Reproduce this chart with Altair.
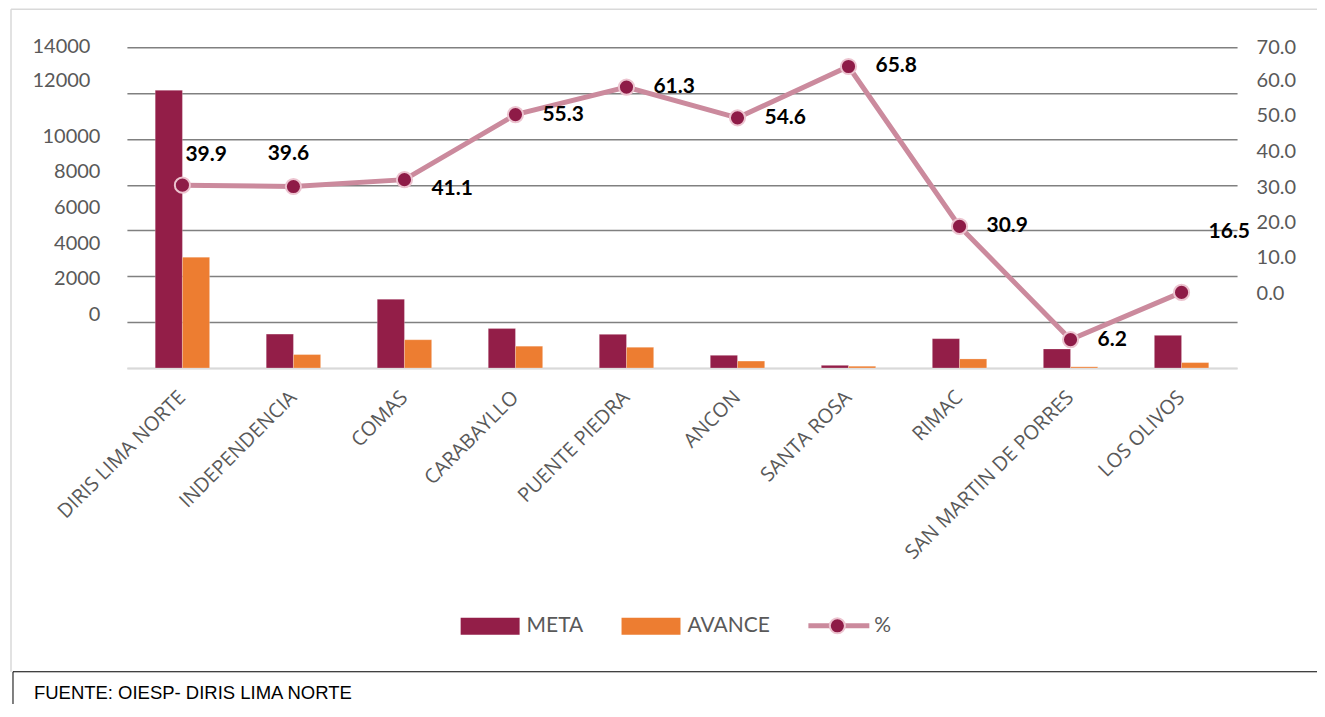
import altair as alt
import pandas as pd

categories = ["DIRIS LIMA NORTE", "INDEPENDENCIA", "COMAS", "CARABAYLLO", "PUENTE PIEDRA",
              "ANCON", "SANTA ROSA", "RIMAC", "SAN MARTIN DE PORRES", "LOS OLIVOS"]
meta = [12120, 1480, 3000, 1720, 1470, 554, 116, 1279, 829, 1425]
avance = [4836, 586, 1233, 951, 901, 302, 76, 395, 51, 235]
pct = [39.9, 39.6, 41.1, 55.3, 61.3, 54.6, 65.8, 30.9, 6.2, 16.5]
series = ["META", "AVANCE"]
left_ticks = [0, 2000, 4000, 6000, 8000, 10000, 12000, 14000]
right_ticks = [0, 10, 20, 30, 40, 50, 60, 70]
source_note = "FUENTE: OIESP- DIRIS LIMA NORTE"

C_META = "#931E48"
C_AVANCE = "#ED7D31"
C_LINE = "#CB8A9D"
C_POINT = "#8E1B47"
GRAY_TXT = "#595959"
FONT = "Lato"

bars_df = pd.DataFrame(
    [{"cat": c, "serie": "META", "val": m} for c, m in zip(categories, meta)]
    + [{"cat": c, "serie": "AVANCE", "val": a} for c, a in zip(categories, avance)]
)
pct_df = pd.DataFrame({"cat": categories, "pct": pct})

W, H = 1111, 321

x_enc = alt.X("cat:N", sort=categories,
              scale=alt.Scale(paddingInner=0.51, paddingOuter=0.255),
              axis=alt.Axis(title=None, labelAngle=-45, labelAlign="right", labelBaseline="middle",
                            labelFont="Open Sans", labelFontSize=20, labelColor=GRAY_TXT,
                            labelPadding=26, ticks=False, domain=True, domainColor="#d9d9d9",
                            domainWidth=2, grid=False, labelLimit=400))

left_off = ("datum.value == 14000 ? -1 : datum.value == 12000 ? -13 : datum.value == 10000 ? -2 : "
            "datum.value == 8000 ? -13 : datum.value == 6000 ? -23 : datum.value == 4000 ? -33 : "
            "datum.value == 2000 ? -44 : -54")
left_pad = "datum.value >= 12000 ? 37 : 27"
right_off = ("datum.value == 70 ? 0 : datum.value == 60 ? -13 : datum.value == 50 ? -23 : "
             "datum.value == 40 ? -33 : datum.value == 30 ? -43 : datum.value == 20 ? -54 : "
             "datum.value == 10 ? -65 : -75")

bars = alt.Chart(bars_df).mark_bar(stroke="white", strokeWidth=0.4, strokeOpacity=0.6).encode(
    x=x_enc,
    xOffset=alt.XOffset("serie:N", sort=series, scale=alt.Scale(domain=series, paddingInner=0)),
    y=alt.Y("val:Q", scale=alt.Scale(domain=[0, 14000], nice=False),
            axis=alt.Axis(title=None, orient="left", values=left_ticks, format="d",
                          grid=True, gridWidth=1.5,
                          gridColor={"condition": {"test": "datum.value === 0", "value": "#d9d9d9"},
                                     "value": "#808080"},
                          domain=False, ticks=False, labelFont=FONT, labelFontSize=20,
                          labelColor=GRAY_TXT, labelBaseline="middle",
                          labelOffset={"expr": left_off}, labelPadding={"expr": left_pad})),
    color=alt.Color("serie:N", scale=alt.Scale(domain=series, range=[C_META, C_AVANCE]), legend=None),
)

y_pct = alt.Y("pct:Q", scale=alt.Scale(domain=[0, 70], nice=False),
              axis=alt.Axis(title=None, orient="right", values=right_ticks, format=".1f",
                            grid=False, domain=False, ticks=False, labelFont=FONT, labelFontSize=20,
                            labelColor=GRAY_TXT, labelBaseline="middle", labelPadding=19,
                            labelOffset={"expr": right_off}))

base_pct = alt.Chart(pct_df).encode(x=alt.X("cat:N", sort=categories), y=y_pct)
line = base_pct.mark_line(color=C_LINE, strokeWidth=5)
pts = base_pct.mark_point(filled=True, fill=C_POINT, stroke="#ecc3cf", strokeWidth=2,
                          size=230, opacity=1)


def lbl(cats, align, dx, dy):
    return base_pct.transform_filter(
        alt.FieldOneOfPredicate(field="cat", oneOf=cats)
    ).mark_text(align=align, baseline="middle", dx=dx, dy=dy, font=FONT, fontSize=21,
                fontWeight="bold", color="black").encode(text=alt.Text("pct:Q", format=".1f"))


labels = [
    lbl(["CARABAYLLO", "PUENTE PIEDRA", "ANCON", "SANTA ROSA", "RIMAC", "SAN MARTIN DE PORRES"],
        "left", 27, 0),
    lbl(["COMAS"], "left", 27, 9),
    lbl(["DIRIS LIMA NORTE"], "left", 3, -30),
    lbl(["INDEPENDENCIA"], "center", -5, -33),
    lbl(["LOS OLIVOS"], "left", 27, -60),
]

pct_layer = alt.layer(line, pts, *labels)

one = alt.Data(values=[{}])


def hline(x0, x1, y, color, w):
    return alt.Chart(one).mark_rule(color=color, strokeWidth=w).encode(
        x=alt.value(x0), x2=alt.value(x1), y=alt.value(y))


def vline(x, y0, y1, color, w):
    return alt.Chart(one).mark_rule(color=color, strokeWidth=w).encode(
        x=alt.value(x), y=alt.value(y0), y2=alt.value(y1))


frame = [
    hline(-116, 1300, -38, "#d9d9d9", 1.5),
    vline(-116, -38, 625, "#d9d9d9", 1.5),
    hline(-114, 1300, 625, "black", 1),
    vline(-114, 625, 720, "black", 1),
]
src_txt = alt.Chart(one).mark_text(align="left", baseline="middle", font="Liberation Sans",
                                   fontSize=18.5, color="black", text=source_note).encode(
    x=alt.value(-93), y=alt.value(646))

leg_meta = alt.Chart(one).mark_rect(color=C_META).encode(
    x=alt.value(334), x2=alt.value(393), y=alt.value(571), y2=alt.value(588))
leg_avance = alt.Chart(one).mark_rect(color=C_AVANCE).encode(
    x=alt.value(495), x2=alt.value(554), y=alt.value(571), y2=alt.value(588))
leg_line = alt.Chart(one).mark_rule(color=C_LINE, strokeWidth=5).encode(
    x=alt.value(682), x2=alt.value(743), y=alt.value(579))
leg_pt = alt.Chart(one).mark_point(filled=True, fill=C_POINT, stroke="#ecc3cf", strokeWidth=2,
                                   size=230, opacity=1).encode(x=alt.value(711), y=alt.value(579))
leg_txt = [
    alt.Chart(one).mark_text(align="left", baseline="middle", font=FONT, fontSize=21,
                             color=GRAY_TXT, text=t).encode(x=alt.value(xv), y=alt.value(579))
    for t, xv in [("META", 400), ("AVANCE", 561), ("%", 748)]
]

chart = alt.layer(
    *frame, src_txt,
    bars, pct_layer,
    leg_meta, leg_avance, leg_line, leg_pt, *leg_txt,
).resolve_scale(y="independent").properties(
    width=W, height=H,
    padding={"left": 119, "top": 39, "right": 80, "bottom": 336},
    autosize=alt.AutoSizeParams(type="none"),
    background="white",
).configure_view(stroke=None)

chart.save("out.html", embed_options={"renderer": "svg", "actions": False})
